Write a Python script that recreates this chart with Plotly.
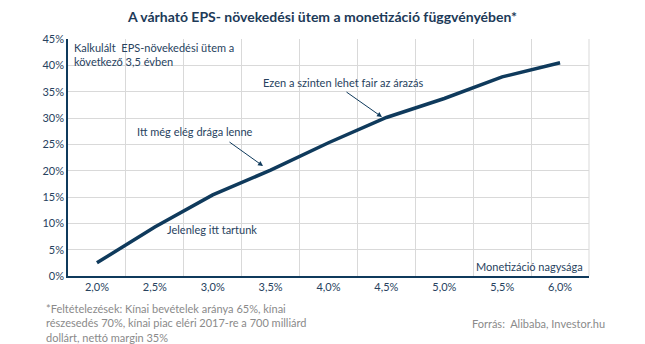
import plotly.graph_objects as go

categories = ["2,0%", "2,5%", "3,0%", "3,5%", "4,0%", "4,5%", "5,0%", "5,5%", "6,0%"]
eps_growth = [2.5, 9.3, 15.4, 20.1, 25.3, 30.1, 33.7, 37.8, 40.5]
y_ticks = [0, 5, 10, 15, 20, 25, 30, 35, 40, 45]
y_labels = [f"{v}%" for v in y_ticks]

W, H = 645, 344
L, R, T, B = 68, 56, 39, 68
PW, PH = W - L - R, H - T - B

NAVY = "#0f3a5c"
TXT = "#27425e"
GRAY = "#8a8a8a"
FONT = "Lato"


def px(x):
    return (x - L) / PW


def py(y):
    return (H - B - y) / PH


fig = go.Figure()
fig.add_trace(go.Scatter(
    x=categories, y=eps_growth, mode="lines",
    line=dict(color=NAVY, width=3.5), hoverinfo="skip", showlegend=False,
))

ann = []


def text(s, x, y, xanchor="left", color=TXT, size=11, align="left"):
    ann.append(dict(text=s, x=px(x), y=py(y), xref="paper", yref="paper",
                    xanchor=xanchor, yanchor="middle", showarrow=False, align=align,
                    font=dict(family=FONT, size=size, color=color)))


text("Kalkulált  EPS-növekedési ütem a<br>következő 3,5 évben", 72, 54)
text("Ezen a szinten lehet fair az árazás", 261, 82)
text("Itt még elég drága lenne", 135, 131)
text("Jelenleg itt tartunk", 165, 229)
text("Monetizáció nagysága", 585, 266, xanchor="right")
text("*Feltételezések: Kínai bevételek aránya 65%, kínai<br>részesedés 70%, kínai piac eléri 2017-re a 700 milliárd<br>dollárt, nettó margin 35%",
     44, 323, color=GRAY)
text("Forrás:  Alibaba, Investor.hu", 470, 323, color=GRAY)

# arrows (tail -> head in pixel space)
for (tx, ty, hx, hy) in [(345, 91, 382, 117), (228, 141, 263, 166)]:
    ann.append(dict(x=px(hx), y=py(hy), ax=tx - hx, ay=ty - hy, xref="paper", yref="paper",
                    axref="pixel", ayref="pixel", showarrow=True, arrowhead=2,
                    arrowsize=1, arrowwidth=1, arrowcolor=NAVY, text=""))

fig.update_layout(
    width=W, height=H,
    margin=dict(l=L, r=R, t=T, b=B),
    paper_bgcolor="white", plot_bgcolor="white",
    title=dict(text="<b>A várható EPS- növekedési ütem a monetizáció függvényében*</b>",
               x=0.5, xanchor="center", y=1 - 17 / H, yanchor="middle",
               font=dict(family=FONT, size=14, color="#1d3a58")),
    annotations=ann,
    xaxis=dict(type="category", tickson="boundaries", showgrid=True, gridcolor="#d9d9d9",
               gridwidth=1, showline=True, linecolor=NAVY, linewidth=1.5, ticks="",
               tickfont=dict(family=FONT, size=11, color=TXT), mirror=False,
               range=[-0.5, len(categories) - 0.5]),
    yaxis=dict(range=[0, 45], tickmode="array", tickvals=y_ticks, ticktext=y_labels,
               showgrid=True, gridcolor="#d9d9d9", gridwidth=1, showline=True,
               linecolor=NAVY, linewidth=1.5, ticks="", zeroline=False,
               tickfont=dict(family=FONT, size=11, color=TXT)),
    shapes=[dict(type="line", xref="paper", yref="paper", x0=1, x1=1, y0=0, y1=1,
                 line=dict(color="#d9d9d9", width=1))],
)

fig.write_html("out.html")
